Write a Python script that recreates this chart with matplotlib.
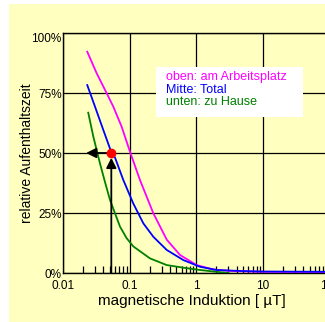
import matplotlib.pyplot as plt
from matplotlib.patches import Rectangle
from matplotlib.ticker import LogLocator, NullFormatter, FixedLocator

plt.rcParams['font.family'] = ['Liberation Sans', 'DejaVu Sans']

# ── Data ─────────────────────────────────────────────────────────────────────
work_x = [0.0231, 0.032, 0.0452, 0.0568, 0.0759, 0.101, 0.1426, 0.226, 0.359, 0.568, 1.01, 1.77, 3, 5, 10, 100, 1000]
work_y = [92.2, 83.2, 74.9, 69.3, 60.9, 50.5, 38.75, 24.9, 13.9, 7.5, 3.3, 1.5, 0.9, 0.7, 0.5, 0.4, 0.3]

total_x = [0.0231, 0.0302, 0.0402, 0.0537, 0.0602, 0.0802, 0.113, 0.160, 0.226, 0.359, 0.636, 1.13, 2.01, 5, 10, 100, 1000]
total_y = [78.3, 69.3, 59.6, 49.9, 48.1, 38.75, 29.0, 20.7, 15.1, 9.6, 5.4, 2.6, 1.25, 0.8, 0.6, 0.5, 0.4]

home_x = [0.0239, 0.0285, 0.0338, 0.0359, 0.0430, 0.0507, 0.0716, 0.090, 0.113, 0.201, 0.359, 0.716, 1.13, 2, 3]
home_y = [66.8, 56.8, 48.5, 45.6, 37.5, 30.4, 19.3, 14.5, 11.1, 6.1, 3.3, 2.0, 1.25, 0.5, 0]

mark_x = 0.053
mark_y = 50

legend_lines = ['oben: am Arbeitsplatz', 'Mitte: Total', 'unten: zu Hause']
legend_colors = ['#FF00FF', '#0000FF', '#008000']

y_ticks = [0, 25, 50, 75, 100]
x_ticks = [0.01, 0.1, 1, 10, 100]
x_labels = ['0.01', '0.1', '1', '10', '100']

# ── Figure ───────────────────────────────────────────────────────────────────
fig = plt.figure(figsize=(3.25, 3.22), dpi=100)
fig.patch.set_facecolor('white')
fig.patches.append(Rectangle((9 / 325, 0), 1, 318 / 322, transform=fig.transFigure,
                             facecolor='#FFFFC0', edgecolor='none', zorder=-5))

# axes runs on past the right edge (0.01 .. 1000), as in the original
ax = fig.add_axes([63 / 325, 49 / 322, 333.5 / 325, 240 / 322])
ax.set_facecolor('none')
ax.set_xscale('log')
ax.set_xlim(0.01, 1000)
ax.set_ylim(0, 100)

ax.plot(work_x, work_y, color=legend_colors[0], lw=1.3, zorder=3)
ax.plot(home_x, home_y, color=legend_colors[2], lw=1.3, zorder=3)
ax.plot(total_x, total_y, color=legend_colors[1], lw=1.3, zorder=4)

# grid
ax.xaxis.set_major_locator(FixedLocator(x_ticks))
ax.set_xticklabels(x_labels)
ax.xaxis.set_minor_locator(LogLocator(base=10, subs=range(2, 10)))
ax.xaxis.set_minor_formatter(NullFormatter())
ax.set_yticks(y_ticks)
ax.set_yticklabels([f'{v}%' for v in y_ticks])
ax.grid(True, which='major', color='black', lw=0.9)
ax.set_axisbelow(True)

ax.tick_params(axis='x', which='major', length=0, pad=5, labelsize=8.5)
ax.tick_params(axis='x', which='minor', direction='in', length=5, width=0.9, color='black')
ax.tick_params(axis='y', length=0, pad=1, labelsize=8.5)
ax.get_yticklabels()[-1].set_va('top')

for s in ['left', 'top', 'bottom']:
    ax.spines[s].set_color('black')
    ax.spines[s].set_linewidth(1)
ax.spines['right'].set_visible(False)

ax.set_xlabel('magnetische Induktion [ µT]', fontsize=11)
ax.xaxis.set_label_coords((192 - 63) / 333.5, -0.115)
ax.xaxis.label.set_va('center')
ax.set_ylabel('relative Aufenthaltszeit', fontsize=10)
ax.yaxis.set_label_coords(-36 / 333.5, 0.5)
ax.yaxis.label.set_va('center')

# arrows + marker
ax.annotate('', xy=(0.0222, mark_y), xytext=(mark_x, mark_y),
            arrowprops=dict(arrowstyle='-|>,head_length=0.6,head_width=0.3',
                            color='black', lw=1.3, shrinkA=0, shrinkB=0), zorder=5)
ax.annotate('', xy=(mark_x, 48), xytext=(mark_x, 0),
            arrowprops=dict(arrowstyle='-|>,head_length=0.6,head_width=0.3',
                            color='black', lw=1.3, shrinkA=0, shrinkB=0), zorder=5)
ax.plot([mark_x], [mark_y], 'o', color='#FF0000', ms=6, zorder=6)

# legend box (axes fraction, box spans 156..303 px)
bx0 = (156 - 63) / 333.5
bw = (303 - 156) / 333.5
ax.add_patch(Rectangle((bx0, 0.65), bw, 0.208, transform=ax.transAxes,
                       facecolor='white', edgecolor='none', zorder=5))
for i, (txt, col) in enumerate(zip(legend_lines, legend_colors)):
    ax.text((166 - 63) / 333.5, 0.817 - i * 0.053, txt, color=col, fontsize=9,
            transform=ax.transAxes, va='center', ha='left', zorder=6)

fig.savefig('out.png', dpi=100)
